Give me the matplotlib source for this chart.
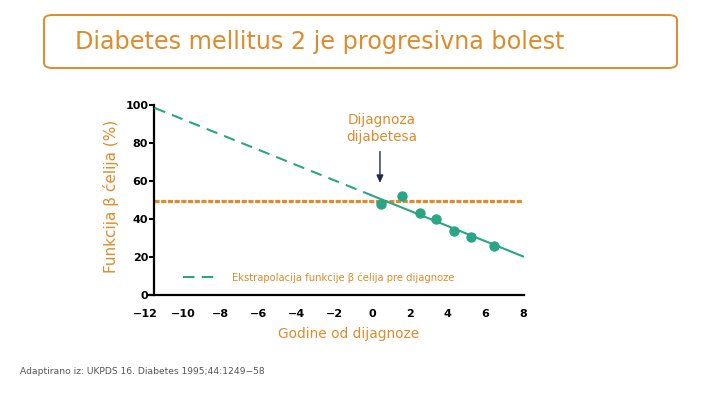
import matplotlib
matplotlib.use("Agg")
import matplotlib.pyplot as plt
from matplotlib.patches import FancyBboxPatch

plt.rcParams['font.family'] = ['DejaVu Sans']

# ---- data ----
years_obs = [0.5, 1.6, 2.55, 3.4, 4.35, 5.25, 6.45]
beta_obs = [47.7, 52.1, 43.3, 40.0, 33.7, 30.7, 25.8]
extrap_x = [-11.5, 0.0]
extrap_y = [98.5, 52.4]
fit_x = [0.0, 8.0]
fit_y = [52.4, 20.3]
threshold_x = [-11.5, 7.95]
threshold_y = [49.5, 49.5]
xticks = [-12, -10, -8, -6, -4, -2, 0, 2, 4, 6, 8]
yticks = [0, 20, 40, 60, 80, 100]

ORANGE = '#DE8B2C'
TEAL = '#2AA585'
NAVY = '#1E2756'

fig = plt.figure(figsize=(7.2, 4.05), dpi=100)

# title box
box = FancyBboxPatch((44 / 720, 1 - 68 / 405), 633 / 720, 53 / 405,
                     boxstyle="round,pad=0,rounding_size=0.012",
                     transform=fig.transFigure, facecolor='white',
                     edgecolor=ORANGE, linewidth=1.4)
fig.patches.append(box)
fig.text(75 / 720, 1 - 42 / 405, "Diabetes mellitus 2 je progresivna bolest",
         fontsize=17.2, color=ORANGE, va='center', ha='left')

ax = fig.add_axes([145 / 720, 110 / 405, 379 / 720, 190 / 405])
ax.set_xlim(-12, 8.05)
ax.set_ylim(0, 100)

ax.plot(threshold_x, threshold_y, color=ORANGE, lw=2.3,
        linestyle=(0, (1.6, 0.5)), zorder=2)
ax.plot(extrap_x, extrap_y, color=TEAL, lw=1.5, linestyle=(0, (5.5, 3.5)),
        zorder=3, label='Ekstrapolacija funkcije β ćelija pre dijagnoze')
ax.plot(fit_x, fit_y, color=TEAL, lw=1.5, zorder=3)
ax.plot(years_obs, beta_obs, 'o', color=TEAL, markersize=7.5,
        markeredgewidth=0, zorder=4, clip_on=False)

ax.annotate('', xy=(0.43, 57.5), xytext=(0.43, 77),
            arrowprops=dict(arrowstyle='-|>,head_length=0.45,head_width=0.2',
                            color=NAVY, lw=1.0))
ax.text(0.52, 87.6, "Dijagnoza\ndijabetesa", ha='center', va='center',
        fontsize=9.8, color=ORANGE, linespacing=1.25)

for s in ['top', 'right']:
    ax.spines[s].set_visible(False)
ax.spines['left'].set_position(('data', -11.5))
ax.spines['left'].set_linewidth(1.6)
ax.spines['bottom'].set_linewidth(1.6)
ax.spines['bottom'].set_bounds(-11.8, 8.05)

ax.set_xticks(xticks)
ax.set_yticks(yticks)
ax.tick_params(axis='x', length=0, pad=10, labelsize=8)
ax.tick_params(axis='y', length=3.5, width=1.5, pad=1, labelsize=8)
for lab in ax.get_xticklabels() + ax.get_yticklabels():
    lab.set_fontweight('bold')

ax.set_ylabel("Funkcija β ćelija (%)", color=ORANGE, fontsize=11)
ax.yaxis.set_label_coords(-0.068, 0.518)
ax.set_xlabel("Godine od dijagnoze", color=ORANGE, fontsize=9.9)
ax.xaxis.set_label_coords(0.536, -0.168)

leg = ax.legend(loc='center left', bbox_to_anchor=(0.1, 0.091), frameon=False,
                fontsize=7.2, handlelength=3.5, handletextpad=1.4,
                borderpad=0, borderaxespad=0)
for t in leg.get_texts():
    t.set_color(ORANGE)

fig.text(20 / 720, 1 - 371 / 405, "Adaptirano iz: UKPDS 16. Diabetes 1995;44:1249\u221258",
         fontsize=6.6, color='#555555', va='center', ha='left')

fig.savefig("out.png", dpi=100)
